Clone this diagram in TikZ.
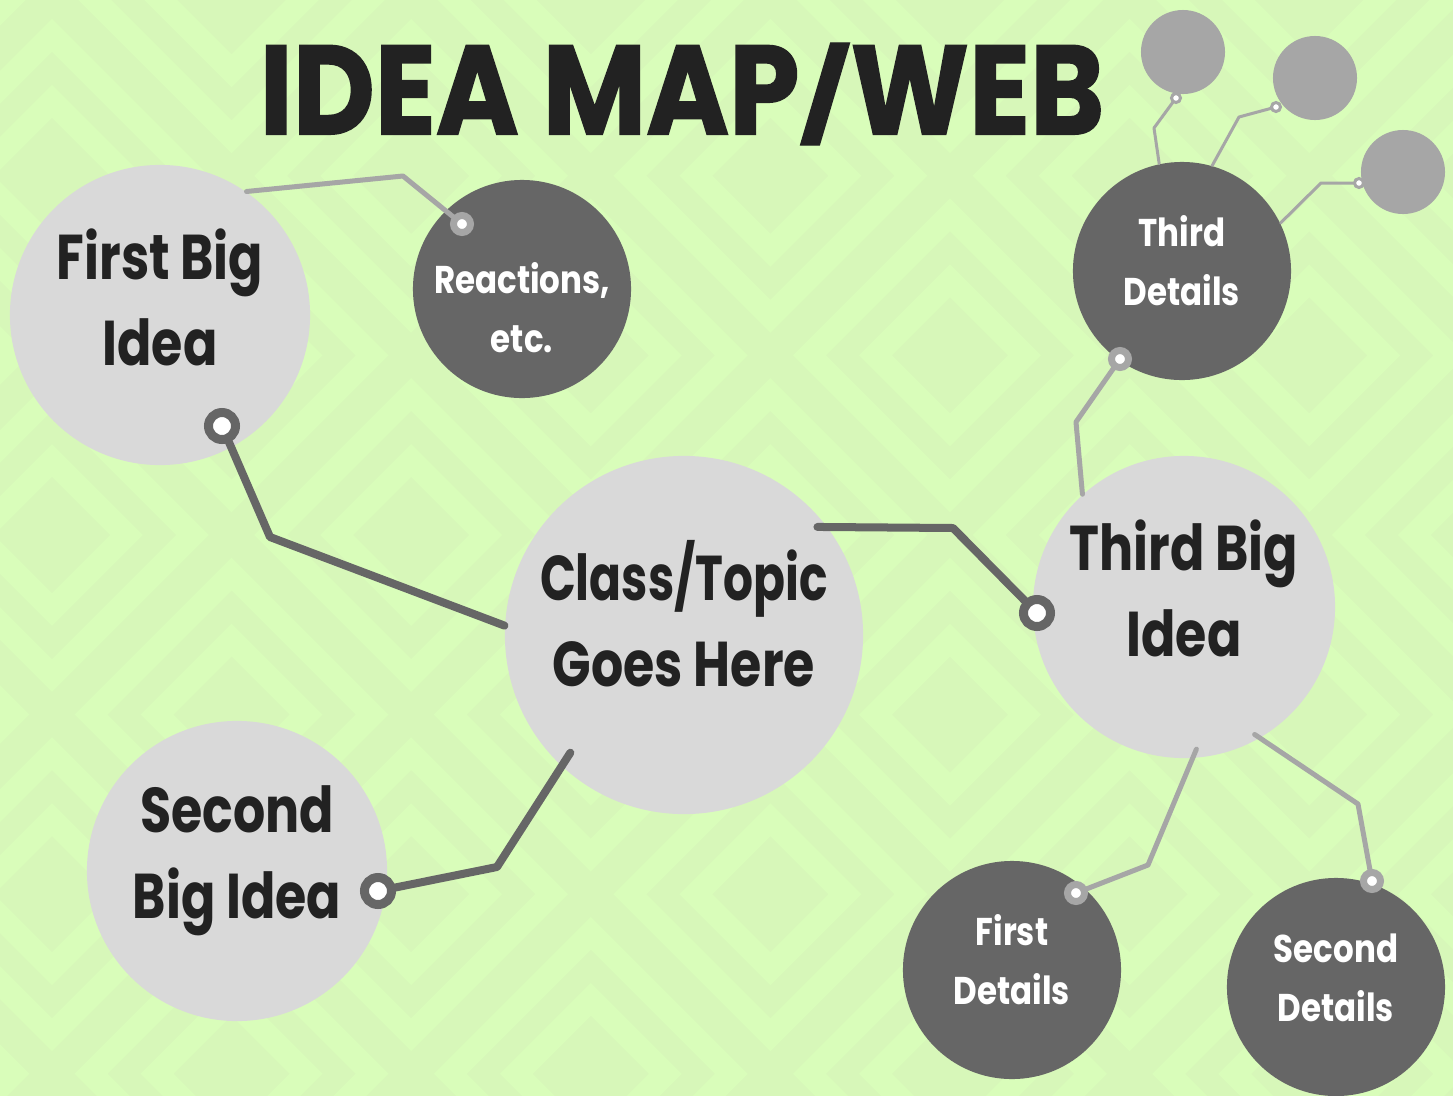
\documentclass[tikz,border=0pt]{standalone}
\usepackage{graphicx}
\usepackage{fontspec}
\setmainfont{Poppins}[FakeStretch=0.84]
\newfontfamily\bigfont{Poppins}[FakeStretch=0.8]
\newfontfamily\titlefont{Poppins}[FakeStretch=0.89,FakeBold=1.2]
\usepackage{tikz}
\usetikzlibrary{positioning,calc}
\definecolor{bglight}{RGB}{217,253,186}
\definecolor{bgdark}{RGB}{215,247,185}
\definecolor{bubble}{RGB}{217,217,217}
\definecolor{detail}{RGB}{102,102,102}
\definecolor{twig}{RGB}{166,166,166}
\definecolor{ink}{RGB}{34,34,34}
\newcommand{\shortslash}{\raisebox{1.7pt}{\scalebox{1}[0.71]{/}}}

\begin{document}
\begin{tikzpicture}[x=0.01cm,y=-0.01cm,
  bigidea/.style={circle,fill=bubble,inner sep=0pt,minimum size=3cm},
  detailidea/.style={circle,fill=detail,inner sep=0pt,minimum size=2.18cm},
  blob/.style={circle,fill=twig,inner sep=0pt,minimum size=0.84cm},
  bigtext/.style={text=ink,font=\bigfont\bfseries\fontsize{18}{24.5}\selectfont,align=center},
  detailtext/.style={text=white,font=\bfseries\fontsize{11}{16.8}\selectfont,align=center},
  darklink/.style={draw=detail,line width=0.08cm,line cap=round,line join=round},
  lightlink/.style={draw=twig,line width=0.05cm,line cap=round,line join=round},
  twiglink/.style={draw=twig,line width=0.03cm,line cap=round,line join=round},
  darkring/.style={circle,draw=detail,fill=white,line width=0.09cm,inner sep=0pt,minimum size=0.27cm},
  lightring/.style={circle,draw=twig,fill=white,line width=0.07cm,inner sep=0pt,minimum size=0.17cm},
  twigring/.style={circle,draw=twig,fill=white,line width=0.03cm,inner sep=0pt,minimum size=0.09cm}]
\useasboundingbox (0,0) rectangle (1453,1096);
\clip (0,0) rectangle (1453,1096);
\fill[bgdark] (0,0) rectangle (1453,1096);
\foreach \u in {-3,...,7} \foreach \v in {-3,...,7} {
  \begin{scope}[shift={({52+179.6*(\u+\v)},{535+179.6*(\u-\v)})}]
    \draw[bglight,line width=0.233cm] (74.5,0) -- (0,74.5) -- (-74.5,0) -- (0,-74.5) -- cycle;
    \draw[bglight,line width=0.233cm] (140.5,0) -- (0,140.5) -- (-140.5,0) -- (0,-140.5) -- cycle;
  \end{scope}
}

\node[text=ink,font=\titlefont\bfseries\fontsize{36}{36}\selectfont] (title) at (682,94) {IDEA MAP\shortslash WEB};

\node[bigidea] (firstbig) at (160,315) {};
\node[detailidea] (reactions) at (522,289) {};
\node[bigidea,minimum size=3.58cm] (topic) at (684,635) {};
\node[bigidea] (secondbig) at (237,871) {};
\node[bigidea,minimum size=3.02cm] (thirdbig) at (1184,607) {};
\node[detailidea] (thirddet) at (1182,271) {};
\node[detailidea] (firstdet) at (1012,970) {};
\node[detailidea] (seconddet) at (1336,987) {};
\node[blob] (blobA) at (1183,52) {};
\node[blob] (blobB) at (1315,78) {};
\node[blob] (blobC) at (1403,172) {};

\node[bigtext] (firstbig-t) at ([yshift=0.18cm]firstbig.center) {First Big\\Idea};
\node[detailtext] (reactions-t) at ([yshift=-0.19cm]reactions.center) {Reactions,\\etc.};
\node[bigtext] (topic-t) at ([yshift=0.21cm]topic.center) {\scalebox{0.93}[1]{Class/Topic}\\Goes Here};
\node[bigtext] (secondbig-t) at ([yshift=0.1cm]secondbig.center) {Second\\Big Idea};
\node[bigtext] (thirdbig-t) at ([yshift=0.19cm]thirdbig.center) {Third Big\\Idea};
\node[detailtext] (thirddet-t) at ([yshift=0.1cm]thirddet.center) {Third\\Details};
\node[detailtext] (firstdet-t) at ([yshift=0.1cm]firstdet.center) {First\\Details};
\node[detailtext] (seconddet-t) at ([yshift=0.095cm]seconddet.center) {Second\\Details};

\coordinate (endA) at (462,224);
\coordinate (endB) at (222,426);
\coordinate (endC) at (378,891);
\coordinate (endD) at (1037,613);
\coordinate (endE) at (1120,359);
\coordinate (endF) at (1176,98);
\coordinate (endG) at (1276,107);
\coordinate (endH) at (1359,183);
\coordinate (endI) at (1076,893);
\coordinate (endJ) at (1372,881);

\draw[lightlink] (firstbig.55) -- (403,176) -- (endA);
\draw[darklink] (endB) -- (270,537) -- (topic.177);
\draw[darklink] ($(topic.center)!0.91!(topic.226)$) -- (497,867) -- (endC);
\draw[darklink] ($(topic.center)!0.955!(topic.39)$) -- (953,528) -- (endD);
\draw[lightlink] (thirdbig.132) -- (1076,422) -- (endE);
\draw[twiglink] (thirddet.102) -- (1154,128) -- (endF);
\draw[twiglink] (thirddet.74) -- (1239,117) -- (endG);
\draw[twiglink] (thirddet.26) -- (1321,183) -- (endH);
\draw[lightlink] ($(thirdbig.center)!0.94!(thirdbig.275)$) -- (1148,865) -- (endI);
\draw[lightlink] ($(thirdbig.center)!0.96!(thirdbig.299)$) -- (1358,804) -- (endJ);

\node[lightring] (ringA) at (endA) {};
\node[darkring] (ringB) at (endB) {};
\node[darkring] (ringC) at (endC) {};
\node[darkring] (ringD) at (endD) {};
\node[lightring] (ringE) at (endE) {};
\node[twigring] (ringF) at (endF) {};
\node[twigring] (ringG) at (endG) {};
\node[twigring] (ringH) at (endH) {};
\node[lightring] (ringI) at (endI) {};
\node[lightring] (ringJ) at (endJ) {};
\end{tikzpicture}
\end{document}
